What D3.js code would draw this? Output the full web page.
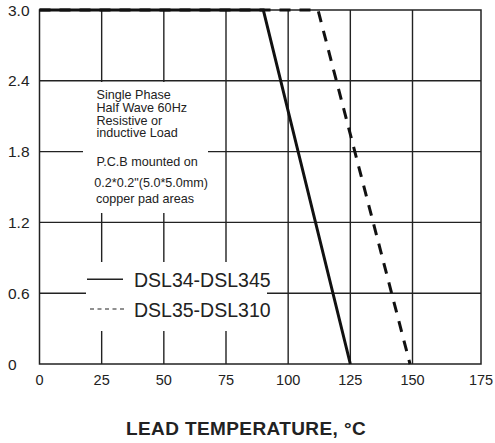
<!DOCTYPE html>
<html><head><meta charset="utf-8">
<script src="https://cdn.jsdelivr.net/npm/d3@7/dist/d3.min.js"></script>
<style>body{margin:0;background:#fff}svg{display:block;font-family:"Liberation Sans",Arial,sans-serif}</style>
</head><body>
<svg id="c" width="495" height="443"></svg>
<script>
const xTicks = [0,25,50,75,100,125,150,175];
const yTicks = [0,0.6,1.2,1.8,2.4,3.0];
const yTickLabels = ["0","0.6","1.2","1.8","2.4","3.0"];
const solidSeries = [[0,3.0],[90,3.0],[125,0]];
const dashedSeries = [[0,3.0],[112,3.0],[149,0]];
const legendLabels = ["DSL34-DSL345","DSL35-DSL310"];
const noteLines1 = ["Single Phase","Half Wave 60Hz","Resistive or","inductive Load"];
const noteLines2 = ["P.C.B mounted on","0.2*0.2\"(5.0*5.0mm)","copper pad areas"];
const xTitle = "LEAD TEMPERATURE, \u00B0C";

const svg = d3.select("#c");
const L = 39.5, R = 481, T = 10, B = 364;
const x = d3.scaleLinear().domain([0,150,175]).range([L,412.5,R]);
const y = d3.scaleLinear().domain([0,3]).range([B,T]);
const ink = "#222";

// grid
const g = svg.append("g");
g.selectAll("line.v").data(xTicks.slice(1,-1)).join("line")
  .attr("x1",d=>x(d)).attr("x2",d=>x(d)).attr("y1",T).attr("y2",B)
  .attr("stroke",ink).attr("stroke-width",1.4);
g.selectAll("line.h").data(yTicks.slice(1,-1)).join("line")
  .attr("x1",L).attr("x2",R).attr("y1",d=>y(d)).attr("y2",d=>y(d))
  .attr("stroke",ink).attr("stroke-width",1.4);

// masks behind the notes / legend
svg.append("rect").attr("x",83).attr("y",82).attr("width",125).attr("height",131).attr("fill","#fff");
svg.append("rect").attr("x",86).attr("y",262).attr("width",181).attr("height",69).attr("fill","#fff");

// frame
svg.append("rect").attr("x",L).attr("y",T).attr("width",R-L).attr("height",B-T)
  .attr("fill","none").attr("stroke",ink).attr("stroke-width",1.5);

// curves
const line = d3.line().x(d=>x(d[0])).y(d=>y(d[1]));
svg.append("path").attr("d",line(solidSeries)).attr("fill","none")
  .attr("stroke","#111").attr("stroke-width",3);
svg.append("path").attr("d",line(dashedSeries)).attr("fill","none")
  .attr("stroke","#111").attr("stroke-width",3).attr("stroke-dasharray","11,9");

// axes labels
svg.selectAll("text.yt").data(yTicks).join("text")
  .attr("x",8).attr("y",d=>y(d)).attr("dy","0.36em")
  .attr("font-size",15.5).attr("fill","#222").text((d,i)=>yTickLabels[i]);
svg.selectAll("text.xt").data(xTicks).join("text")
  .attr("x",d=>x(d)).attr("y",385).attr("text-anchor","middle")
  .attr("font-size",14.5).attr("fill","#222").text(d=>d);
svg.append("text").attr("x",246).attr("y",435).attr("text-anchor","middle")
  .attr("font-size",19).attr("letter-spacing","0.4px").attr("font-weight","bold").attr("fill","#222").text(xTitle);

// notes
const n1 = [99.3,112,124.7,137.3];
noteLines1.forEach((t,i)=>svg.append("text").attr("x",96.5).attr("y",n1[i])
  .attr("font-size",12.6).attr("fill","#222").text(t));
const n2 = [[96.5,165.5],[94.3,187],[96,202.5]];
noteLines2.forEach((t,i)=>svg.append("text").attr("x",n2[i][0]).attr("y",n2[i][1])
  .attr("font-size",12.6).attr("fill","#222").text(t));

// legend
svg.append("line").attr("x1",87).attr("x2",123).attr("y1",279.3).attr("y2",279.3)
  .attr("stroke","#222").attr("stroke-width",1.5);
svg.append("line").attr("x1",90).attr("x2",125).attr("y1",309).attr("y2",309)
  .attr("stroke","#222").attr("stroke-width",1.2).attr("stroke-dasharray","4,3.5");
svg.append("text").attr("x",134).attr("y",287.3).attr("font-size",19.5).attr("fill","#222").text(legendLabels[0]);
svg.append("text").attr("x",134).attr("y",316.7).attr("font-size",19.5).attr("fill","#222").text(legendLabels[1]);
</script>
</body></html>
